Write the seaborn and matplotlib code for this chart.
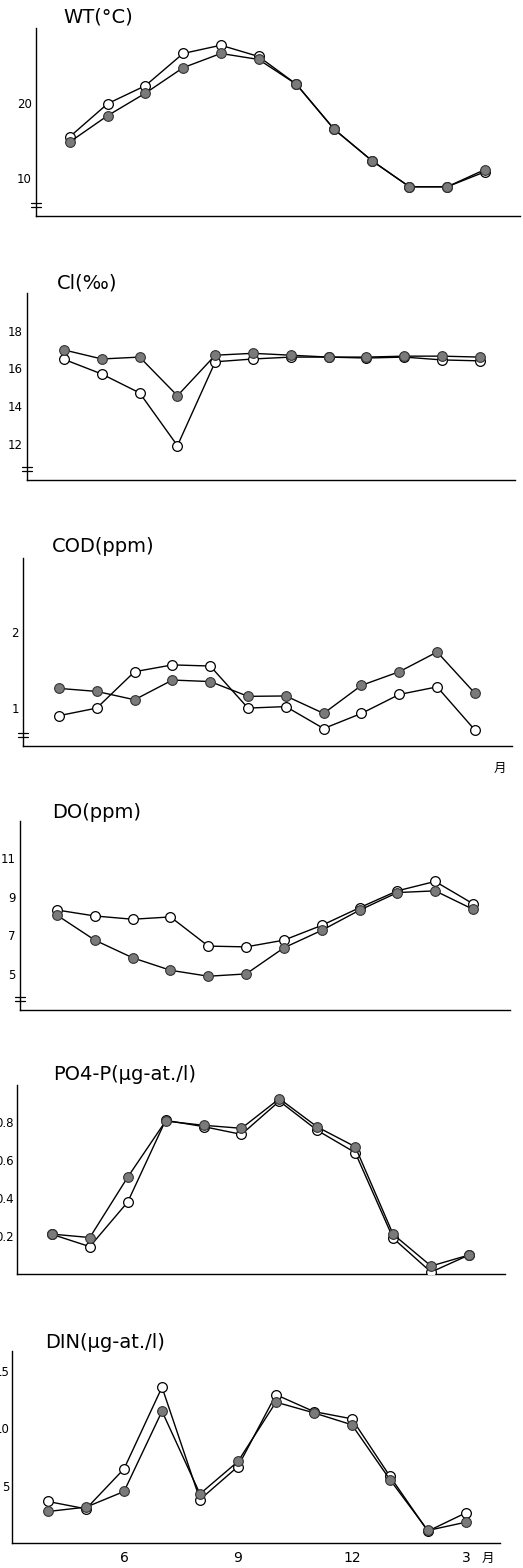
import numpy as np
import pandas as pd
import matplotlib.pyplot as plt
import seaborn as sns

sns.set_style('white')
plt.rcParams['font.family'] = ['DejaVu Sans', 'Noto Sans CJK JP']
plt.rcParams['text.color'] = 'black'
plt.rcParams['xtick.color'] = 'black'
plt.rcParams['ytick.color'] = 'black'

# months Apr .. Mar
months = [4, 5, 6, 7, 8, 9, 10, 11, 12, 1, 2, 3]
month_labels = ['', '', '6', '', '', '9', '', '', '12', '', '', '3']

wt_open = [15.5, 19.9, 22.3, 26.6, 27.7, 26.2, 22.5, 16.5, 12.3, 8.8, 8.8, 10.8]
wt_filled = [14.8, 18.3, 21.3, 24.7, 26.6, 25.8, 22.5, 16.5, 12.3, 8.8, 8.8, 11.1]

cl_open = [16.48, 15.7, 14.7, 11.9, 16.35, 16.5, 16.6, 16.6, 16.55, 16.6, 16.45, 16.4]
cl_filled = [16.98, 16.5, 16.6, 14.55, 16.7, 16.8, 16.7, 16.6, 16.6, 16.65, 16.65, 16.6]

cod_open = [0.90, 1.0, 1.48, 1.57, 1.555, 1.0, 1.02, 0.73, 0.93, 1.18, 1.28, 0.71]
cod_filled = [1.26, 1.22, 1.11, 1.37, 1.35, 1.155, 1.16, 0.93, 1.30, 1.48, 1.74, 1.195]

do_open = [8.31, 8.0, 7.83, 7.95, 6.43, 6.39, 6.74, 7.51, 8.43, 9.31, 9.8, 8.64]
do_filled = [8.04, 6.74, 5.82, 5.17, 4.86, 4.98, 6.34, 7.25, 8.30, 9.22, 9.31, 8.35]

po4_open = [0.209, 0.144, 0.379, 0.809, 0.776, 0.735, 0.91, 0.756, 0.639, 0.188, 0.01, 0.10]
po4_filled = [0.21, 0.192, 0.51, 0.805, 0.783, 0.767, 0.923, 0.774, 0.67, 0.209, 0.042, 0.10]

din_open = [3.61, 2.97, 6.45, 13.55, 3.78, 6.65, 12.9, 11.43, 10.8, 5.81, 1.03, 2.62]
din_filled = [2.74, 3.12, 4.48, 11.46, 4.27, 7.09, 12.25, 11.32, 10.28, 5.52, 1.09, 1.81]

W, H = 523, 1568
fig = plt.figure(figsize=(W / 100, H / 100), dpi=100)

# title, open, filled, y ticks, tick labels, ylim, rect px (l, t, r, b), xlim, title pos, break
panels = [
    ('WT(°C)', wt_open, wt_filled, [10, 20], ['10', '20'], (4.9, 30),
     (36, 28, 520, 216), (-0.9, 11.93), (63, 17), True),
    ('Cl(‰)', cl_open, cl_filled, [12, 14, 16, 18], ['12', '14', '16', '18'], (10.08, 20),
     (27, 293, 515, 480), (-0.98, 11.93), (57, 283), True),
    ('COD(ppm)', cod_open, cod_filled, [1, 2], ['1', '2'], (0.5, 2.98),
     (23, 558, 512, 746), (-0.95, 11.98), (52, 547), True),
    ('DO(ppm)', do_open, do_filled, [5, 7, 9, 11], ['5', '7', '9', '11'], (3.1, 12.95),
     (20, 821, 510, 1010), (-0.98, 11.98), (52, 812), True),
    ('PO4-P(μg-at./l)', po4_open, po4_filled, [0.2, 0.4, 0.6, 0.8], ['0.2', '0.4', '0.6', '0.8'],
     (0.0, 0.995), (17, 1085, 505, 1274), (-0.92, 11.95), (53, 1075), False),
    ('DIN(μg-at./l)', din_open, din_filled, [5, 10, 15], ['5', '10', '15'], (0.0, 16.7),
     (12, 1351, 500, 1543), (-0.95, 11.9), (45, 1343), False),
]

x = np.arange(len(months))
for i, (title, yo, yf, yt, ytl, ylim, (l, t, r, b), xlim, (tx, ty), brk) in enumerate(panels):
    ax = fig.add_axes([l / W, 1 - b / H, (r - l) / W, (b - t) / H])
    ax.set_facecolor('none')
    df = pd.DataFrame({'x': x, 'open': yo, 'filled': yf})
    sns.lineplot(data=df, x='x', y='open', ax=ax, color='black', linewidth=1.0,
                 marker='o', markersize=7, markerfacecolor='white',
                 markeredgecolor='black', markeredgewidth=0.9, zorder=3)
    sns.lineplot(data=df, x='x', y='filled', ax=ax, color='black', linewidth=1.0,
                 marker='o', markersize=7, markerfacecolor='#7a7a7a',
                 markeredgecolor='#333333', markeredgewidth=0.8, zorder=4)
    ax.set_xlim(*xlim)
    ax.set_ylim(*ylim)
    ax.set_xticks(x)
    ax.set_yticks(yt)
    ax.set_yticklabels(ytl, fontsize=8.5)
    if i == len(panels) - 1:
        ax.set_xticklabels(month_labels, fontsize=10)
    else:
        ax.set_xticklabels([])
    ax.set_xlabel('')
    ax.set_ylabel('')
    for s in ['top', 'right']:
        ax.spines[s].set_visible(False)
    for s in ['left', 'bottom']:
        ax.spines[s].set_color('black')
        ax.spines[s].set_linewidth(1.0)
    ax.tick_params(axis='both', direction='in', length=3, width=0.8, color='black')
    ax.tick_params(axis='y', pad=2 if i >= 4 else 3)
    ax.tick_params(axis='x', pad=6)

    if brk:
        hpx = b - t
        wpx = r - l
        for off in (9, 13):
            ax.plot([-5 / wpx, 5 / wpx], [off / hpx, off / hpx], color='black',
                    linewidth=0.9, transform=ax.transAxes, clip_on=False)

    fig.text(tx / W, 1 - ty / H, title, fontsize=14, ha='left', va='center')

# month marks
fig.text(500 / W, 1 - 768 / H, '月', fontsize=9, ha='center', va='center',
         family=['Noto Sans CJK JP', 'DejaVu Sans'])
fig.text(488 / W, 1 - 1558 / H, '月', fontsize=9, ha='center', va='center',
         family=['Noto Sans CJK JP', 'DejaVu Sans'])

fig.savefig('out.png', dpi=100)
